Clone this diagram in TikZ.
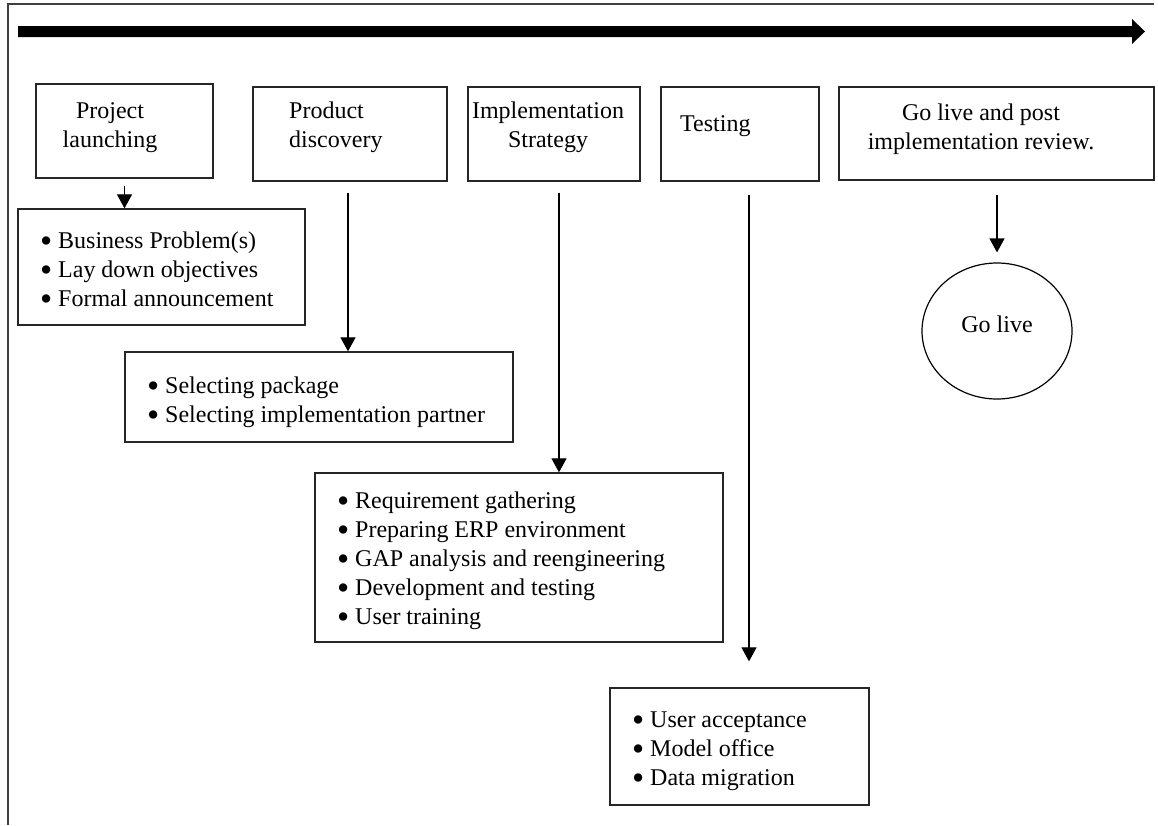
\documentclass[tikz,border=0pt]{standalone}
\usepackage{graphicx}
\usepackage{fontspec}
\setmainfont{Liberation Serif}
\usetikzlibrary{arrows.meta,shapes.geometric}
% bullet item: enlarged bullet in an 18pt slot, then the text
\newcommand\blt[1]{\makebox[18pt][l]{\raisebox{-4.6pt}[0pt][0pt]{\scalebox{1.45}{\textbullet}}}#1}
\begin{document}
\begin{tikzpicture}[x=1pt,y=-1pt,
  frame/.style={line width=2pt, draw=black!75},
  box/.style={draw=black!85, line width=1.3pt, rectangle, inner sep=0pt},
  txt/.style={inner sep=0pt, font=\fontsize{24}{29}\selectfont},
  arr/.style={line width=1.2pt, -{Triangle[length=14pt,width=15pt]}},
  ]
\useasboundingbox (0,0) rectangle (1158,825);

% open frame: top and left edges
\draw[frame] (8,825) -- (8,4) -- (1154,4);

% time line arrow
\fill (18,26) -- (1132,26) -- (1132,19) -- (1145,31.5) -- (1132,44) -- (1132,37) -- (18,37) -- cycle;

% phase boxes
\node[box, minimum width=177pt, minimum height=94pt] (h1) at (124.5,131) {};
\node[box, minimum width=194pt, minimum height=94pt] (h2) at (350,134) {};
\node[box, minimum width=172pt, minimum height=94pt] (h3) at (554,134) {};
\node[box, minimum width=158pt, minimum height=94pt] (h4) at (740,134) {};
\node[box, minimum width=315pt, minimum height=93pt] (h5) at (996.5,133.5) {};

% phase titles (base anchor = baseline of the last line)
\node[txt, align=center, anchor=base] (t1) at (110,147) {Project\\launching};
\node[txt, align=left, anchor=base west] (t2) at (289,147) {Product\\discovery};
\node[txt, align=center, anchor=base] (t3) at (548,147) {Implementation\\Strategy};
\node[txt, anchor=base west] (t4) at (680,131) {Testing};
\node[txt, align=center, anchor=base] (t5) at (981,149) {Go live and post\\implementation review.};

% activity boxes
\node[box, minimum width=287pt, minimum height=116pt] (b1) at (161.5,267) {};
\node[box, minimum width=388pt, minimum height=90pt] (b2) at (319,397) {};
\node[box, minimum width=408pt, minimum height=169pt] (b3) at (519,557.5) {};
\node[box, minimum width=259pt, minimum height=117pt] (b4) at (739.5,746.5) {};

\node[txt, align=left, anchor=base west] (l1) at (40,306)
  {\blt{Business Problem(s)}\\\blt{Lay down objectives}\\\blt{Formal announcement}};
\node[txt, align=left, anchor=base west] (l2) at (147,422)
  {\blt{Selecting package}\\\blt{Selecting implementation partner}};
\node[txt, align=left, anchor=base west] (l3) at (337,624)
  {\blt{Requirement gathering}\\\blt{Preparing ERP environment}\\\blt{GAP analysis and reengineering}\\\blt{Development and testing}\\\blt{User training}};
\node[txt, align=left, anchor=base west] (l4) at (632,785)
  {\blt{User acceptance}\\\blt{Model office}\\\blt{Data migration}};

% go live
\node[draw, ellipse, line width=1.2pt, inner sep=0pt, minimum width=150pt, minimum height=136pt] (gl) at (997,331) {};
\node[txt, anchor=base] (tg) at (997,332) {Go live};

% connectors
\coordinate (s1) at ([yshift=-7pt]h1.south);
\coordinate (s2) at ([xshift=-2pt,yshift=-11pt]h2.south);
\coordinate (s3) at ([xshift=5pt,yshift=-11pt]h3.south);
\coordinate (s4) at ([xshift=9pt,yshift=-13pt]h4.south);
\coordinate (s5) at ([xshift=0.5pt,yshift=-14pt]h5.south);

\draw[arr] (s1) -- (s1 |- b1.north);
\draw[arr] (s2) -- (s2 |- b2.north);
\draw[arr] (s3) -- (s3 |- b3.north);
\draw[arr, shorten >=26pt] (s4) -- (s4 |- b4.north);
\draw[arr, shorten >=10pt] (s5) -- (s5 |- gl.north);
\end{tikzpicture}
\end{document}
